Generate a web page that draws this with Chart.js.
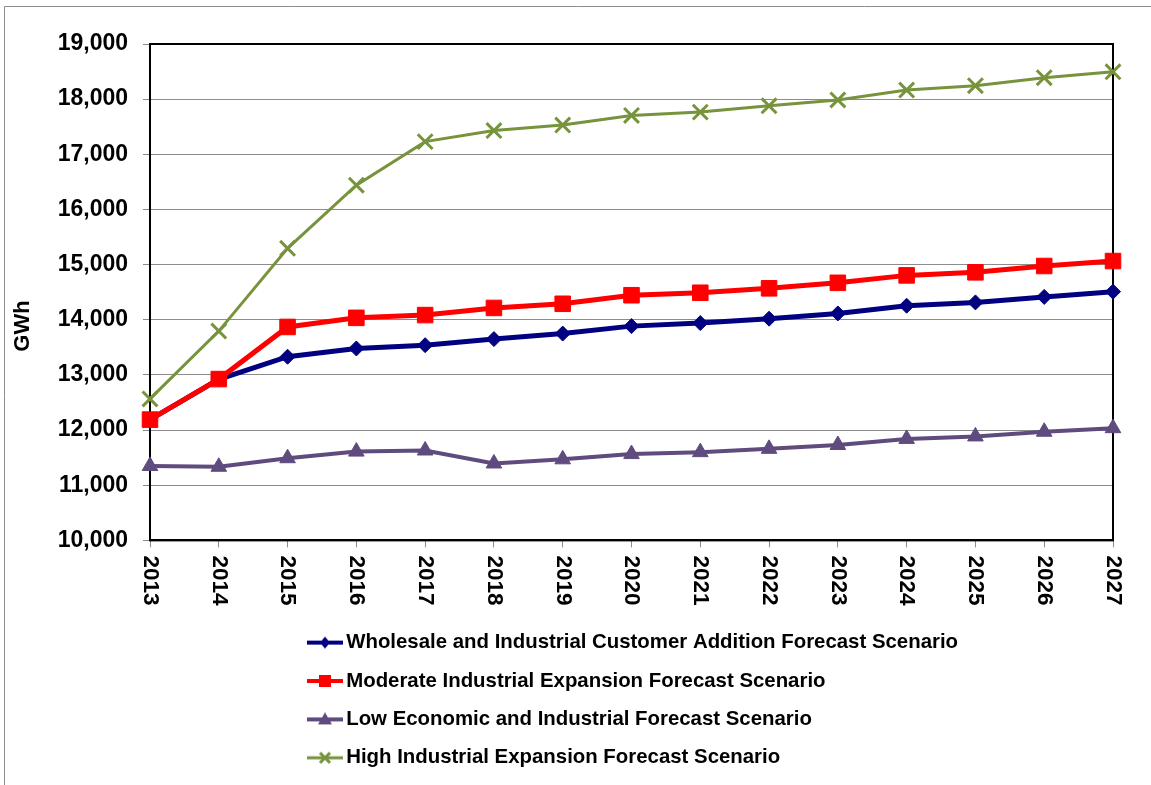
<!DOCTYPE html>
<html>
<head>
<meta charset="utf-8">
<script src="https://cdn.jsdelivr.net/npm/chart.js@4.4.1/dist/chart.umd.min.js"></script>
<style>
  html, body { margin: 0; padding: 0; background: #fff; }
  #wrap { width: 1151px; height: 785px; }
</style>
</head>
<body>
<div id="wrap"><canvas id="chart" width="1151" height="785"></canvas></div>
<script>
// values (GWh)
const years = ['2013', '2014', '2015', '2016', '2017', '2018', '2019', '2020',
               '2021', '2022', '2023', '2024', '2025', '2026', '2027'];
const wholesale = [12190, 12920, 13330, 13480, 13540, 13650, 13750, 13885,
                   13940, 14020, 14115, 14255, 14315, 14415, 14510];
const moderate = [12190, 12925, 13870, 14035, 14085, 14215, 14290, 14445,
                  14490, 14570, 14670, 14805, 14860, 14975, 15065];
const low = [11350, 11335, 11490, 11610, 11630, 11395, 11470, 11565,
             11600, 11660, 11730, 11840, 11885, 11970, 12035];
const high = [12565, 13795, 15295, 16440, 17230, 17430, 17530, 17705,
              17765, 17880, 17985, 18165, 18245, 18390, 18495];
const seriesNames = [
  'Wholesale and Industrial Customer Addition Forecast Scenario',
  'Moderate Industrial Expansion Forecast Scenario',
  'Low Economic and Industrial Forecast Scenario',
  'High Industrial Expansion Forecast Scenario'
];
const yTicks = [10000, 19000, 1000]; // min, max, step

const FONT = "'Liberation Sans', Arial, sans-serif";
const NAVY = '#000080', RED = '#ff0000', PURPLE = '#5f4b7d', GREEN = '#77933c';

// small line+marker samples for the legend, excel style
function legendIcon(color, lw, marker) {
    const c = document.createElement('canvas');
    c.width = 36; c.height = 14;
    const g = c.getContext('2d');
    g.strokeStyle = color; g.fillStyle = color; g.lineWidth = lw;
    g.beginPath(); g.moveTo(0, 7); g.lineTo(36, 7); g.stroke();
    g.beginPath();
    if (marker === 'diamond') {
        g.moveTo(18, 1); g.lineTo(23, 7); g.lineTo(18, 13); g.lineTo(13, 7); g.closePath(); g.fill();
    } else if (marker === 'square') {
        g.fillRect(12, 1, 12, 12);
    } else if (marker === 'triangle') {
        g.moveTo(18, 0); g.lineTo(25, 12); g.lineTo(11, 12); g.closePath(); g.fill();
    } else {
        g.lineWidth = 3;
        g.moveTo(13, 2); g.lineTo(23, 12); g.moveTo(23, 2); g.lineTo(13, 12); g.stroke();
    }
    return c;
}
const legendIcons = [
    legendIcon(NAVY, 4, 'diamond'),
    legendIcon(RED, 4, 'square'),
    legendIcon(PURPLE, 4, 'triangle'),
    legendIcon(GREEN, 3, 'cross')
];

const extras = {
    id: 'extras',
    afterLayout(chart) {
        // legend rows start under the chart, left aligned
        chart.legend.left = 296;
    },
    beforeDraw(chart) {
        const ctx = chart.ctx;
        ctx.save();
        ctx.strokeStyle = '#8c8c8c';
        ctx.lineWidth = 1;
        ctx.beginPath();
        ctx.moveTo(4.5, 785); ctx.lineTo(4.5, 6.5); ctx.lineTo(1151, 6.5);
        ctx.stroke();
        ctx.restore();
    },
    beforeDatasetsDraw(chart) {
        const {ctx, chartArea: a} = chart;
        ctx.save();
        ctx.strokeStyle = '#000';
        ctx.lineWidth = 2;
        ctx.strokeRect(a.left, a.top, a.right - a.left, a.bottom - a.top);
        ctx.restore();
    },
    afterDraw(chart) {
        const ctx = chart.ctx;
        const xs = chart.scales.x;
        ctx.save();
        ctx.fillStyle = '#000';
        ctx.font = 'bold 22.5px ' + FONT;
        ctx.textAlign = 'left';
        ctx.textBaseline = 'middle';
        xs.ticks.forEach((t, i) => {
            ctx.save();
            ctx.translate(xs.getPixelForTick(i), xs.top + 15);
            ctx.rotate(Math.PI / 2);
            ctx.fillText(years[i], 0, 0);
            ctx.restore();
        });
        // y axis title
        ctx.font = 'bold 22px ' + FONT;
        ctx.translate(23, 326);
        ctx.rotate(-Math.PI / 2);
        ctx.textAlign = 'center';
        ctx.fillText('GWh', 0, 0);
        ctx.restore();
    }
};

new Chart(document.getElementById('chart'), {
    type: 'line',
    data: {
        labels: years,
        datasets: [
            {
                label: seriesNames[0], data: wholesale, order: 1,
                borderColor: NAVY, backgroundColor: NAVY, borderWidth: 5,
                pointStyle: 'rectRot', pointRadius: 7.5, pointBorderWidth: 1
            },
            {
                label: seriesNames[1], data: moderate, order: 0,
                borderColor: RED, backgroundColor: RED, borderWidth: 5,
                pointStyle: 'rect', pointRadius: 11, pointBorderWidth: 1
            },
            {
                label: seriesNames[2], data: low, order: 2,
                borderColor: PURPLE, backgroundColor: PURPLE, borderWidth: 4,
                pointStyle: 'triangle', pointRadius: 9, pointBorderWidth: 1
            },
            {
                label: seriesNames[3], data: high, order: 2,
                borderColor: GREEN, backgroundColor: GREEN, borderWidth: 3,
                pointStyle: 'crossRot', pointRadius: 10.5, pointBorderWidth: 3
            }
        ]
    },
    options: {
        responsive: false,
        animation: false,
        events: [],
        layout: { padding: { top: 44, right: 38, bottom: 7, left: 0 } },
        elements: { line: { tension: 0 } },
        scales: {
            x: {
                offset: false,
                border: { color: '#000', width: 2 },
                grid: { drawOnChartArea: false, drawTicks: true, tickLength: 7, color: '#8c8c8c' },
                ticks: { display: false, autoSkip: false },
                afterFit(scale) { scale.height = 74; }
            },
            y: {
                min: yTicks[0], max: yTicks[1],
                border: { color: '#000', width: 2 },
                grid: { color: '#8c8c8c', tickLength: 7 },
                ticks: {
                    stepSize: yTicks[2],
                    padding: 15,
                    color: '#000',
                    font: { family: FONT, size: 23, weight: 'bold' },
                    callback: v => v.toLocaleString('en-US')
                },
                afterFit(scale) { scale.width = 150; }
            }
        },
        plugins: {
            legend: {
                position: 'bottom',
                align: 'start',
                fullSize: false,
                labels: {
                    usePointStyle: true,
                    pointStyleWidth: 22,
                    padding: 18,
                    color: '#000',
                    font: { family: FONT, size: 20.4, weight: 'bold' },
                    sort: (a, b) => a.datasetIndex - b.datasetIndex,
                    generateLabels(chart) {
                        return Chart.defaults.plugins.legend.labels.generateLabels(chart)
                            .map(l => Object.assign(l, { pointStyle: legendIcons[l.datasetIndex], rotation: 0 }));
                    }
                }
            },
            tooltip: { enabled: false }
        }
    },
    plugins: [extras]
});
</script>
</body>
</html>
